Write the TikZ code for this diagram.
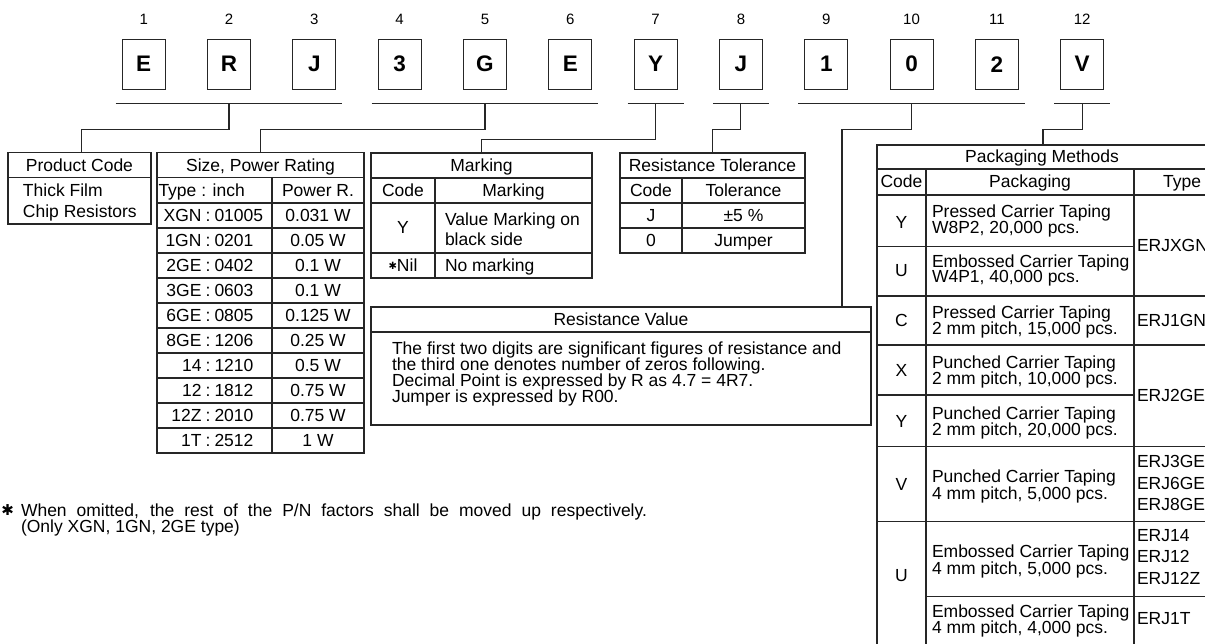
\documentclass[tikz,border=0pt]{standalone}
\usepackage{fontspec}
\setmainfont{Liberation Sans}
\newfontfamily\symfont{DejaVu Sans}
\newcommand\txtf{\fontsize{17.5}{16}\selectfont}
\begin{document}
\begin{tikzpicture}[x=1pt,y=-1pt,line width=1.1pt,
  lc/.style={draw=black!85},
  every node/.style={inner sep=0pt,outer sep=0pt,font=\txtf},
  lbox/.style={draw=black!85,minimum width=43pt,minimum height=50pt,font=\fontsize{22.5}{22.5}\selectfont\bfseries},
  num/.style={font=\fontsize{15}{15}\selectfont},
  tbl/.style={draw=black!85,anchor=north west},
  tc/.style={anchor=base},
  tlft/.style={anchor=base west},
  trt/.style={anchor=base east}]
\useasboundingbox (0,0) rectangle (1205,644);
\clip (0,0) rectangle (1205,644);

% code letters
\foreach \i/\ch in {1/E,2/R,3/J,4/3,5/G,6/E,7/Y,8/J,9/1,10/0,11/2,12/V}{
  \node[lbox] (b\i) at ({143.7+85.32*(\i-1)},64.2) {\ch};
  \node[num] (n\i) at ({143.7+85.32*(\i-1)},19.5) {\i};
}
% brackets
\draw[lc] ([xshift=-6.5pt,yshift=-14pt]b1.south west) -- ([xshift=6.5pt,yshift=-14pt]b3.south east);
\draw[lc] ([xshift=-6.5pt,yshift=-14pt]b4.south west) -- ([xshift=6.5pt,yshift=-14pt]b6.south east);
\draw[lc] ([xshift=-6.5pt,yshift=-14pt]b7.south west) -- ([xshift=6.5pt,yshift=-14pt]b7.south east);
\draw[lc] ([xshift=-6.5pt,yshift=-14pt]b8.south west) -- ([xshift=6.5pt,yshift=-14pt]b8.south east);
\draw[lc] ([xshift=-6.5pt,yshift=-14pt]b9.south west) -- ([xshift=6.5pt,yshift=-14pt]b11.south east);
\draw[lc] ([xshift=-6.5pt,yshift=-14pt]b12.south west) -- ([xshift=6.5pt,yshift=-14pt]b12.south east);
\coordinate (k1) at ([yshift=-14pt]b2.south);
\coordinate (k2) at ([yshift=-14pt]b5.south);
\coordinate (k3) at ([yshift=-14pt]b7.south);
\coordinate (k4) at ([yshift=-14pt]b8.south);
\coordinate (k5) at ([yshift=-14pt]b10.south);
\coordinate (k6) at ([yshift=-14pt]b12.south);

% Product code
\node[tbl,minimum width=143pt,minimum height=71.3pt] (pc) at (8,152.7) {};
\draw[lc] (8,177.7) -- (151,177.7);
\node[tc] (pch) at (79.5,171.2) {Product Code};
\node[tlft] (pc1) at (23,197) {Thick Film};
\node[tlft] (pc2) at (23,217.7) {Chip Resistors};

% Size table
\node[tbl,minimum width=207pt,minimum height=300.3pt] (st) at (157,152.7) {};
\foreach \yy in {177.7,203,228,253,278,303,328,353,378,403,428}{\draw[lc] (157,\yy) -- (364,\yy);}
\draw[lc] (272,177.7) -- (272,453);
\node[tc] (sth) at (260.5,171.2) {Size, Power Rating};
\node[tlft] (stc1) at (158.5,196.3) {Type : inch};
\node[tc] (stc2) at (318,196.3) {Power R.};
\foreach \a/\b/\w [count=\k from 0] in {XGN/01005/0.031 W,1GN/0201/0.05 W,2GE/0402/0.1 W,3GE/0603/0.1 W,6GE/0805/0.125 W,8GE/1206/0.25 W,14/1210/0.5 W,12/1812/0.75 W,12Z/2010/0.75 W,1T/2512/1 W}{
  \node[trt] (sa\k) at (201.5,{221.5+25*\k}) {\a};
  \node[tc] (sc\k) at (208,{221.5+25*\k}) {:};
  \node[tlft] (sb\k) at (214.5,{221.5+25*\k}) {\b};
  \node[tc] (sw\k) at (318,{221.5+25*\k}) {\w};
}

% Marking
\node[tbl,minimum width=221pt,minimum height=125pt] (mk) at (371,153) {};
\draw[lc] (371,178) -- (592,178);
\draw[lc] (371,203) -- (592,203);
\draw[lc] (371,253) -- (592,253);
\draw[lc] (435,178) -- (435,278);
\node[tc] (mkh) at (481.5,171.5) {Marking};
\node[tc] (mkc1) at (403,196.5) {Code};
\node[tc] (mkc2) at (513.5,196.5) {Marking};
\node[tc] (mky) at (403,234) {Y};
\node[tlft] (mky1) at (445,225.3) {Value Marking on};
\node[tlft] (mky2) at (445,246) {black side};
\node[tc] (mkn) at (403,271.5) {{\symfont\fontsize{10}{10}\selectfont\raisebox{1.5pt}{✱}}Nil};
\node[tlft] (mkn1) at (445,271.5) {No marking};

% Tolerance
\node[tbl,minimum width=185pt,minimum height=100pt] (tol) at (620,153) {};
\draw[lc] (620,178) -- (805,178);
\draw[lc] (620,203) -- (805,203);
\draw[lc] (620,228) -- (805,228);
\draw[lc] (682,178) -- (682,253);
\node[tc] (tolh) at (712.5,171.5) {Resistance Tolerance};
\node[tc] (tolc1) at (651,196.5) {Code};
\node[tc] (tolc2) at (743.5,196.5) {Tolerance};
\node[tc] (tolj) at (651,221.5) {J};
\node[tc] (tolj1) at (743.5,221.5) {±5 \%};
\node[tc] (tolz) at (651,246.5) {0};
\node[tc] (tolz1) at (743.5,246.5) {Jumper};

% Resistance value
\node[tbl,minimum width=500pt,minimum height=118pt] (rv) at (371,307) {};
\draw[lc] (371,332) -- (871,332);
\node[tc] (rvh) at (621,325.5) {Resistance Value};
\node[tlft] (rv1) at (392,354.3) {The first two digits are significant figures of resistance and};
\node[tlft] (rv2) at (392,370.2) {the third one denotes number of zeros following.};
\node[tlft] (rv3) at (392,386) {Decimal Point is expressed by R as 4.7 = 4R7.};
\node[tlft] (rv4) at (392,402) {Jumper is expressed by R00.};

% Packaging
\node[tbl,minimum width=338pt,minimum height=501pt] (pk) at (877,145) {};
\draw[lc] (877,169) -- (1215,169);
\draw[lc] (877,195) -- (1215,195);
\draw[lc] (877,246.7) -- (1134,246.7);
\draw[lc] (877,296) -- (1215,296);
\draw[lc] (877,345) -- (1215,345);
\draw[lc] (877,395) -- (1134,395);
\draw[lc] (877,446.7) -- (1215,446.7);
\draw[lc] (877,521.7) -- (1215,521.7);
\draw[lc] (926,596.7) -- (1215,596.7);
\draw[lc] (926,169) -- (926,646);
\draw[lc] (1134,169) -- (1134,646);
\node[tc] (pkh) at (1042,163) {Packaging Methods};
\node[tc] (pkc1) at (901.5,188) {Code};
\node[tc] (pkc2) at (1030,188) {Packaging};
\node[tc] (pkc3) at (1182,188) {Type};
% rows
\node[tc] (r1c) at (901.5,229) {Y};
\node[tlft] (r1a) at (932,217.7) {Pressed Carrier Taping};
\node[tlft] (r1b) at (932,233.3) {W8P2, 20,000 pcs.};
\node[tc] (r2c) at (901.5,277) {U};
\node[tlft] (r2a) at (932,267.7) {Embossed Carrier Taping};
\node[tlft] (r2b) at (932,283) {W4P1, 40,000 pcs.};
\node[tc] (r3c) at (901.5,326.5) {C};
\node[tlft] (r3a) at (932,318.5) {Pressed Carrier Taping};
\node[tlft] (r3b) at (932,334.5) {2 mm pitch, 15,000 pcs.};
\node[tc] (r4c) at (901.5,376) {X};
\node[tlft] (r4a) at (932,368) {Punched Carrier Taping};
\node[tlft] (r4b) at (932,384) {2 mm pitch, 10,000 pcs.};
\node[tc] (r5c) at (901.5,427) {Y};
\node[tlft] (r5a) at (932,419) {Punched Carrier Taping};
\node[tlft] (r5b) at (932,435) {2 mm pitch, 20,000 pcs.};
\node[tc] (r6c) at (901.5,490) {V};
\node[tlft] (r6a) at (932,482.7) {Punched Carrier Taping};
\node[tlft] (r6b) at (932,499.3) {4 mm pitch, 5,000 pcs.};
\node[tc] (r7c) at (901.5,581) {U};
\node[tlft] (r7a) at (932,557.7) {Embossed Carrier Taping};
\node[tlft] (r7b) at (932,574.3) {4 mm pitch, 5,000 pcs.};
\node[tlft] (r8a) at (932,617) {Embossed Carrier Taping};
\node[tlft] (r8b) at (932,633.3) {4 mm pitch, 4,000 pcs.};
% types
\node[tlft] (t1) at (1137,251.5) {ERJXGN};
\node[tlft] (t2) at (1137,326.5) {ERJ1GN};
\node[tlft] (t3) at (1137,401.8) {ERJ2GE};
\node[tlft] (t4) at (1137,467.7) {ERJ3GE};
\node[tlft] (t5) at (1137,489.3) {ERJ6GE};
\node[tlft] (t6) at (1137,510) {ERJ8GE};
\node[tlft] (t7) at (1137,541) {ERJ14};
\node[tlft] (t8) at (1137,562.7) {ERJ12};
\node[tlft] (t9) at (1137,584.3) {ERJ12Z};
\node[tlft] (t10) at (1137,624.3) {ERJ1T};

% connectors
\draw[lc] (k1) -- ++(0,26) -| ([xshift=2pt]pc.north);
\draw[lc] (k2) -- ++(0,26) -| (st.north);
\draw[lc] (k3) -- ++(0,36) -| (mk.north);
\draw[lc] (k4) -- ++(0,26) -| (tol.north);
\draw[lc] (k5) -- ++(0,26) -| ([xshift=221pt]rv.north);
\draw[lc] (k6) -- ++(0,26) -| ([xshift=-3pt]pk.north);

% footnote
\node[tlft] (fa) at (1.5,515.5) {\symfont\fontsize{15}{15}\selectfont ✱};
\node[tlft] (fn1) at (21,516) {\makebox[626pt][s]{When omitted, the rest of the P/N factors shall be moved up respectively.}};
\node[tlft] (fn2) at (21,532.5) {(Only XGN, 1GN, 2GE type)};
\end{tikzpicture}
\end{document}
